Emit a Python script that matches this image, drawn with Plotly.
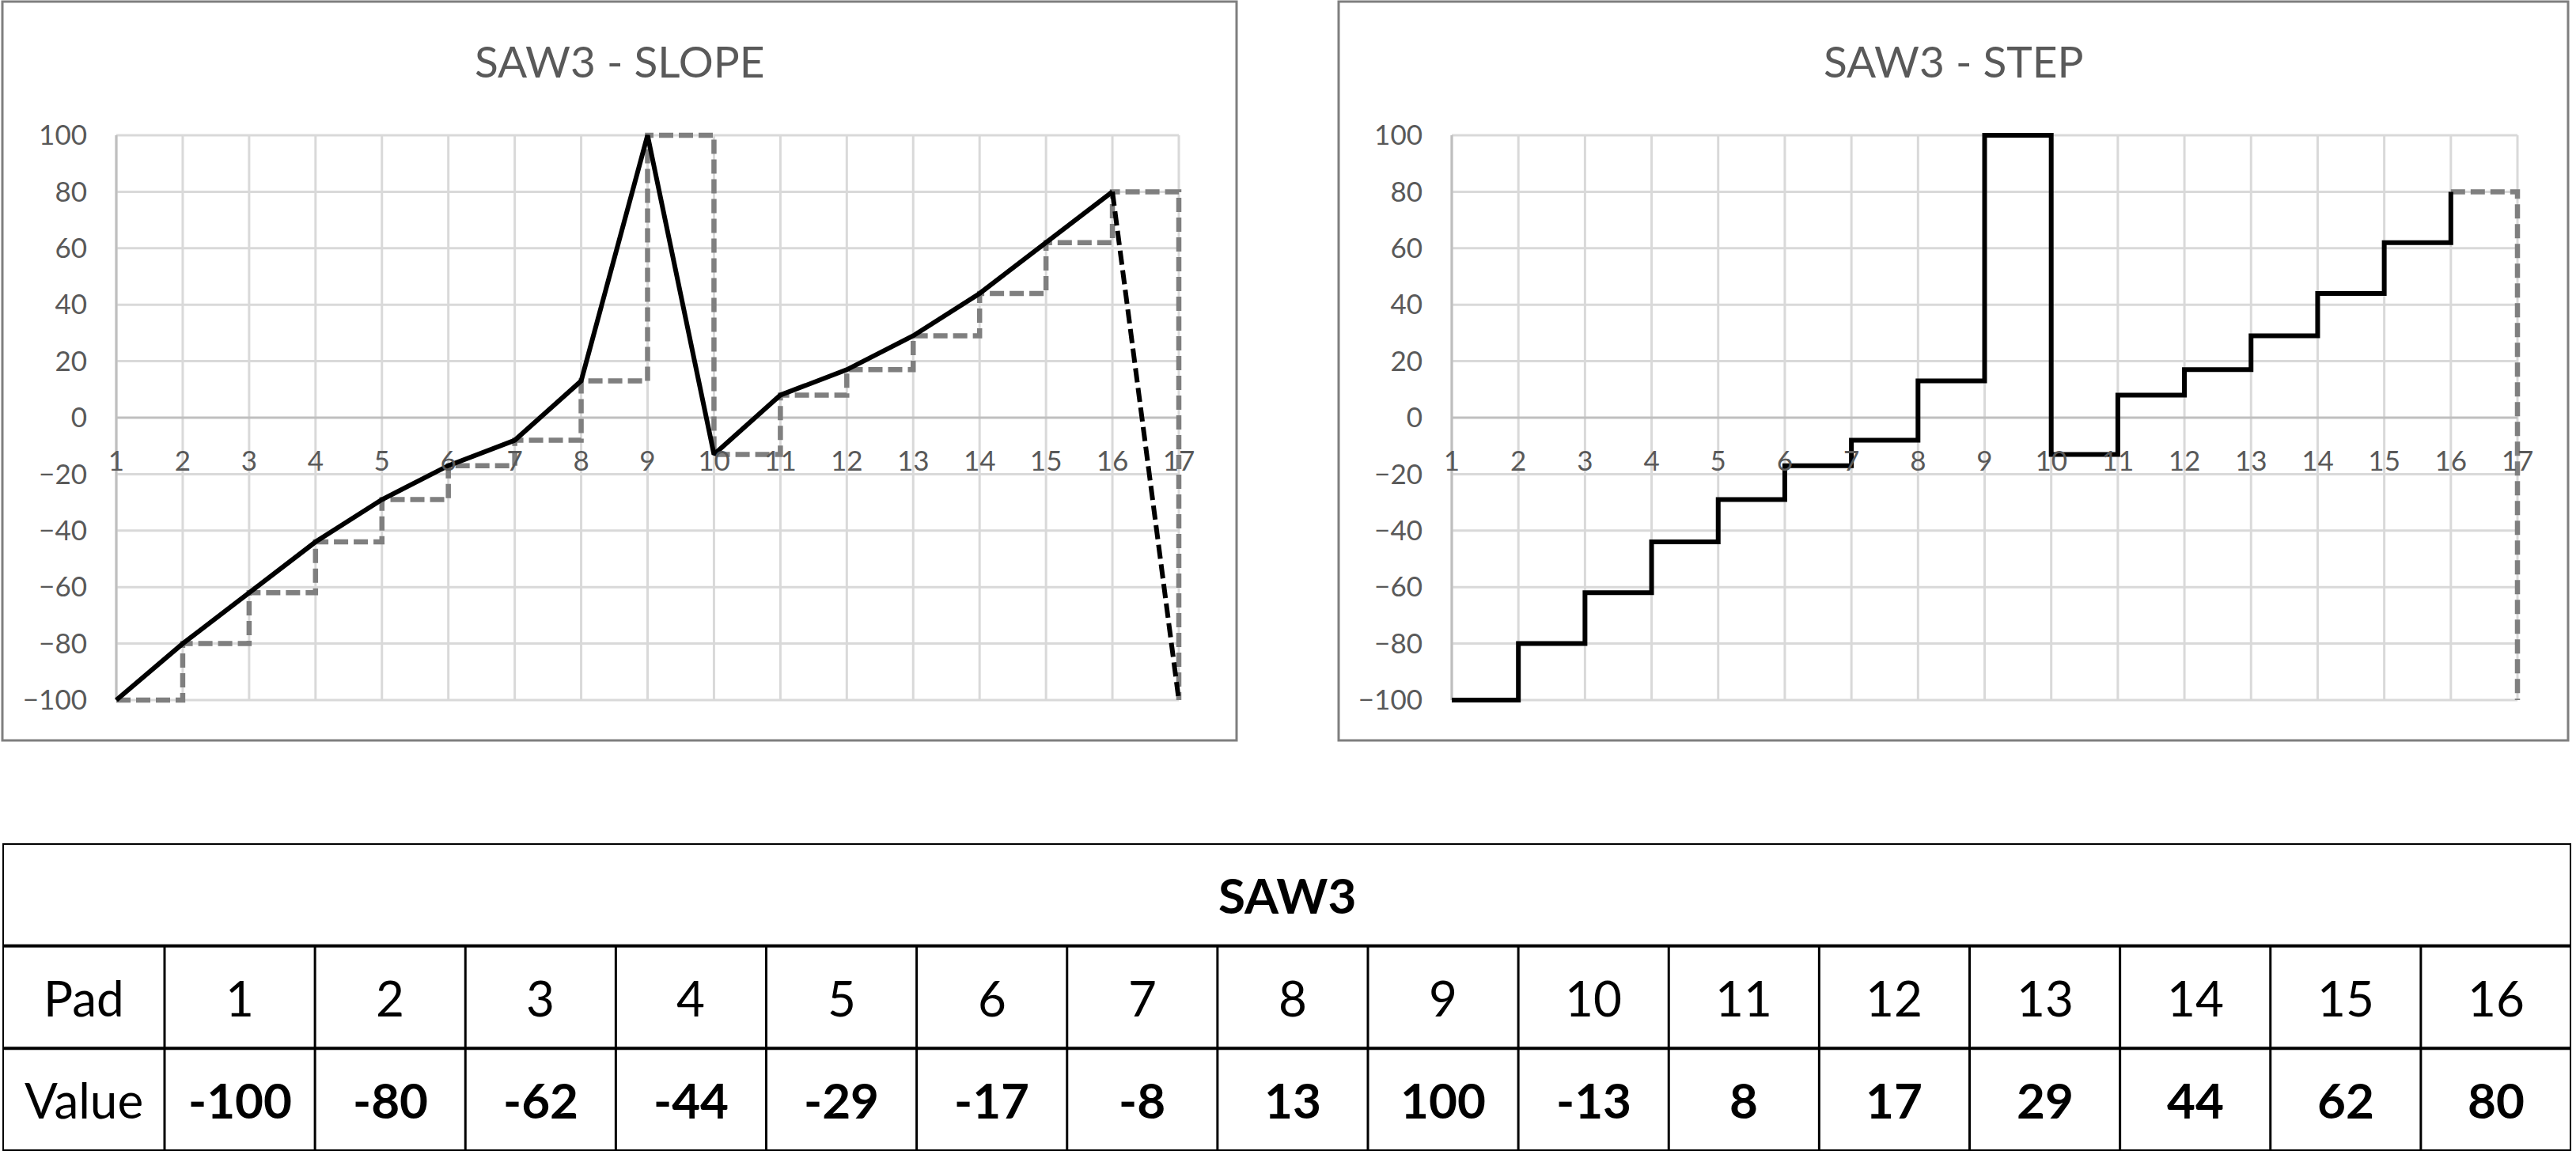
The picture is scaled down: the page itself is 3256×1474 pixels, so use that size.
import plotly.graph_objects as go

# ---- data ----
pads = list(range(1, 17))
values = [-100, -80, -62, -44, -29, -17, -8, 13, 100, -13, 8, 17, 29, 44, 62, 80]
wrap_pad = 17                      # pad 17 == wrap back to pad 1
x_ticks = list(range(1, 18))
y_ticks = list(range(-100, 101, 20))
table_title = "SAW3"
row_labels = ["Pad", "Value"]
chart_titles = ["SAW3 - SLOPE", "SAW3 - STEP"]

W, H = 3256, 1474
def px_x(p): return p / W
def px_y(p): return 1 - p / H

TXT = "#595959"
GRID = "#d9d9d9"
AXL = "#bfbfbf"
GRAY = "#7f7f7f"
DASH = "18px,7px"
LW_BLACK = 6
LW_GRAY = 6.5
CHART_FONT = "Lato, Open Sans, sans-serif"
TABLE_FONT = "Lato, Open Sans, sans-serif"
PAD = 6  # px of room around the plot area so thick lines on the edges are not clipped

fig = go.Figure()

# ---- left chart: slope ----
fig.add_trace(go.Scatter(x=pads + [wrap_pad], y=values + [values[0]], mode="lines",
                         line=dict(color=GRAY, width=LW_GRAY, dash=DASH, shape="hv"),
                         xaxis="x", yaxis="y", showlegend=False))
fig.add_trace(go.Scatter(x=pads, y=values, mode="lines",
                         line=dict(color="black", width=LW_BLACK),
                         xaxis="x", yaxis="y", showlegend=False))
fig.add_trace(go.Scatter(x=[pads[-1], wrap_pad], y=[values[-1], values[0]], mode="lines",
                         line=dict(color="black", width=LW_BLACK, dash=DASH),
                         xaxis="x", yaxis="y", showlegend=False))

# ---- right chart: step ----
fig.add_trace(go.Scatter(x=[pads[-1], wrap_pad], y=[values[-1], values[0]], mode="lines",
                         line=dict(color=GRAY, width=LW_GRAY, dash=DASH, shape="hv"),
                         xaxis="x2", yaxis="y2", showlegend=False))
fig.add_trace(go.Scatter(x=pads, y=values, mode="lines",
                         line=dict(color="black", width=LW_BLACK, shape="hv"),
                         xaxis="x2", yaxis="y2", showlegend=False))

Y_TOP, Y_BOT = 171, 885
dy = (Y_BOT - Y_TOP) / 200.0
ydom = [px_y(Y_BOT + PAD), px_y(Y_TOP - PAD)]
yrng = [-100 - PAD / dy, 100 + PAD / dy]
zero_pos = px_y((Y_TOP + Y_BOT) / 2)

def xaxis_cfg(l, r):
    dx = (r - l) / 16.0
    return dict(domain=[px_x(l - PAD), px_x(r + PAD)], range=[1 - PAD / dx, 17 + PAD / dx],
                tickmode="array", tickvals=x_ticks,
                showgrid=False, zeroline=False, showline=False,
                ticks="", ticklabelstandoff=31, anchor="free", position=zero_pos,
                automargin=False,
                tickfont=dict(family=CHART_FONT, size=35, color=TXT), fixedrange=True)

def yaxis_cfg(xanchor):
    return dict(domain=ydom, range=yrng, tickmode="array", tickvals=y_ticks,
                showgrid=False, zeroline=False, showline=False,
                ticks="", ticklabelstandoff=36 - PAD, anchor=xanchor, automargin=False,
                tickfont=dict(family=CHART_FONT, size=35, color=TXT), fixedrange=True)

# ---- table (drawn on its own hidden axes) ----
label_w = 205 / 190.13
x3_range = [0.5 - label_w, 16.5]
label_x = (x3_range[0] + 0.5) / 2

shapes = []
# chart borders
for (l, t, r, b) in [(3, 2, 1563, 936), (1692, 2, 3246, 936)]:
    shapes.append(dict(type="rect", xref="paper", yref="paper",
                       x0=px_x(l), x1=px_x(r), y0=px_y(b), y1=px_y(t),
                       line=dict(color=GRAY, width=3), layer="below"))
# gridlines, zero line and vertical axis line of both charts
for xr, yr in [("x", "y"), ("x2", "y2")]:
    for xv in x_ticks:
        shapes.append(dict(type="line", xref=xr, yref=yr, x0=xv, x1=xv, y0=y_ticks[0], y1=y_ticks[-1],
                           line=dict(color=GRID, width=3), layer="below"))
    for yv in y_ticks:
        shapes.append(dict(type="line", xref=xr, yref=yr, x0=x_ticks[0], x1=x_ticks[-1], y0=yv, y1=yv,
                           line=dict(color=AXL if yv == 0 else GRID, width=3), layer="below"))
    shapes.append(dict(type="line", xref=xr, yref=yr, x0=x_ticks[0], x1=x_ticks[0],
                       y0=y_ticks[0], y1=y_ticks[-1], line=dict(color=AXL, width=3), layer="below"))
# table lines
shapes.append(dict(type="rect", xref="x3", yref="y3", x0=x3_range[0], x1=x3_range[1], y0=0, y1=3,
                   line=dict(color="black", width=4)))
for yy in [1, 2]:
    shapes.append(dict(type="line", xref="x3", yref="y3", x0=x3_range[0], x1=x3_range[1], y0=yy, y1=yy,
                       line=dict(color="black", width=4)))
for k in range(0, 16):
    shapes.append(dict(type="line", xref="x3", yref="y3", x0=k + 0.5, x1=k + 0.5, y0=0, y1=2,
                       line=dict(color="black", width=3)))

annotations = []
for title, cx in zip(chart_titles, [783, 2469]):
    annotations.append(dict(text=title, xref="paper", yref="paper", x=px_x(cx), y=px_y(77),
                            xanchor="center", yanchor="middle",
                            showarrow=False, font=dict(family=CHART_FONT, size=55, color=TXT)))
tf = dict(family=TABLE_FONT, size=62, color="black")
annotations.append(dict(text="<b>%s</b>" % table_title, xref="x3 domain", yref="y3", x=0.5, y=2.5,
                        xanchor="center", yanchor="middle", showarrow=False, font=tf))
annotations.append(dict(text=row_labels[0], xref="x3", yref="y3", x=label_x, y=1.5,
                        xanchor="center", yanchor="middle", showarrow=False, font=tf))
annotations.append(dict(text=row_labels[1], xref="x3", yref="y3", x=label_x, y=0.5,
                        xanchor="center", yanchor="middle", showarrow=False, font=tf))
for p, v in zip(pads, values):
    annotations.append(dict(text=str(p), xref="x3", yref="y3", x=p, y=1.5, showarrow=False,
                            xanchor="center", yanchor="middle", font=tf))
    annotations.append(dict(text="<b>%d</b>" % v, xref="x3", yref="y3", x=p, y=0.5, showarrow=False,
                            xanchor="center", yanchor="middle", font=tf))

fig.update_layout(
    width=W, height=H, margin=dict(l=0, r=0, t=0, b=0, pad=0, autoexpand=False),
    paper_bgcolor="white", plot_bgcolor="rgba(0,0,0,0)",
    xaxis=xaxis_cfg(147, 1490), yaxis=yaxis_cfg("x"),
    xaxis2=xaxis_cfg(1835, 3182), yaxis2=yaxis_cfg("x2"),
    xaxis3=dict(domain=[px_x(3), px_x(3250)], range=x3_range, visible=False, fixedrange=True),
    yaxis3=dict(domain=[px_y(1455), px_y(1066)], range=[0, 3], visible=False, anchor="x3", fixedrange=True),
    shapes=shapes, annotations=annotations, showlegend=False,
)

fig.write_html("out.html", config={"displayModeBar": False},
               post_script="document.body.style.margin='0';document.body.style.overflow='hidden';")
